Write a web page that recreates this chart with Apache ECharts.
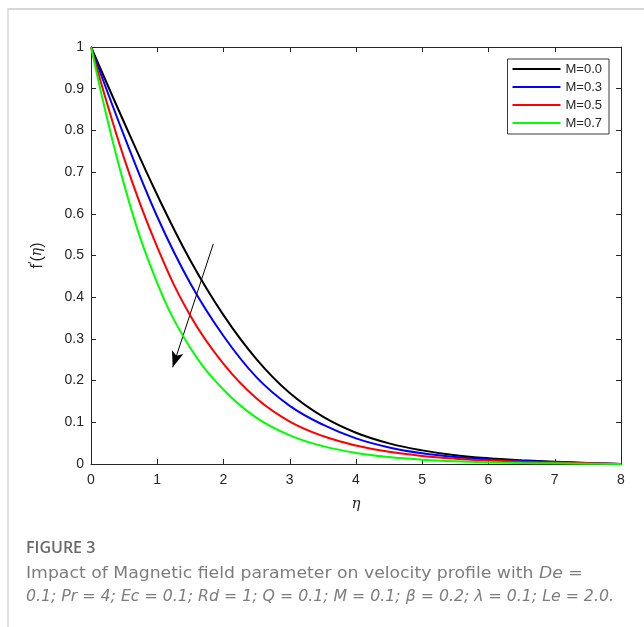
<!DOCTYPE html>
<html>
<head>
<meta charset="utf-8">
<script src="https://cdn.jsdelivr.net/npm/echarts@6/dist/echarts.min.js"></script>
<style>
  html, body { margin: 0; padding: 0; background: #ffffff; }
  #chart { width: 644px; height: 627px; }
</style>
</head>
<body>
<div id="chart"></div>
<script>
// Similarity variable eta (x axis)
const eta = [0, 0.5, 1, 1.5, 2, 2.5, 3, 3.5, 4, 4.5, 5, 5.5, 6, 6.5, 7, 7.5, 8];

// Velocity profiles f'(eta) for each magnetic parameter M
const fM00 = [1, 0.819, 0.645, 0.488, 0.357, 0.251, 0.170, 0.1135, 0.075, 0.0495, 0.0327, 0.021, 0.0137, 0.009, 0.0055, 0.0025, 0.0];
const fM03 = [1, 0.787, 0.593, 0.433, 0.307, 0.2077, 0.1395, 0.0942, 0.0614, 0.0397, 0.0257, 0.0167, 0.0109, 0.007, 0.0045, 0.002, 0.0];
const fM05 = [1, 0.733, 0.520, 0.3555, 0.240, 0.157, 0.1018, 0.067, 0.0443, 0.0292, 0.0193, 0.0128, 0.0084, 0.0055, 0.0036, 0.002, 0.0];
const fM07 = [1, 0.670, 0.434, 0.278, 0.178, 0.1106, 0.0688, 0.0428, 0.0266, 0.0165, 0.0103, 0.0064, 0.004, 0.0025, 0.0015, 0.0008, 0.0];

const seriesNames = ['M=0.0', 'M=0.3', 'M=0.5', 'M=0.7'];
const seriesValues = [fM00, fM03, fM05, fM07];
const seriesColors = ['#000000', '#0000ff', '#ff0000', '#00ff00'];

// Annotation arrow showing increasing M: start and end points in (eta, f') units
const arrowStart = [1.846, 0.528];
const arrowEnd = [1.233, 0.232];

const axisColor = '#262626';
const tickFont = { fontFamily: 'Liberation Sans, Arial, sans-serif', fontSize: 14, color: axisColor };

const chart = echarts.init(document.getElementById('chart'), null, { renderer: 'canvas' });

const series = seriesNames.map((name, i) => ({
  name: name,
  type: 'line',
  xAxisIndex: 0,
  yAxisIndex: 0,
  data: eta.map((x, k) => [x, seriesValues[i][k]]),
  smooth: 0.4,
  symbol: 'none',
  showSymbol: false,
  lineStyle: { color: seriesColors[i], width: 2 },
  itemStyle: { color: seriesColors[i] },
  z: 3 + i,
  animation: false
}));

series[0].markLine = {
  silent: true,
  animation: false,
  symbol: ['none', 'arrow'],
  symbolSize: [9, 16],
  label: { show: false },
  lineStyle: { color: '#000000', width: 1, type: 'solid' },
  data: [[{ coord: arrowStart }, { coord: arrowEnd }]]
};

const commonTick = { show: true, inside: true, length: 5, lineStyle: { color: axisColor, width: 1 } };
const commonLine = { show: true, onZero: false, lineStyle: { color: axisColor, width: 1 } };
const captionFont = '"DejaVu Sans", "Noto Sans", sans-serif';

chart.setOption({
  animation: false,
  backgroundColor: '#ffffff',
  grid: { left: 91, right: 23, top: 47, bottom: 163, containLabel: false },
  legend: {
    data: seriesNames,
    orient: 'vertical',
    right: 35,
    top: 59,
    icon: 'rect',
    itemWidth: 48,
    itemHeight: 2,
    itemGap: 4,
    padding: [3, 7, 4, 5],
    backgroundColor: '#ffffff',
    borderColor: '#3a3a3a',
    borderWidth: 1,
    borderRadius: 0,
    textStyle: { fontFamily: 'Liberation Sans, Arial, sans-serif', fontSize: 13, color: axisColor, lineHeight: 14 }
  },
  xAxis: [
    {
      type: 'value', position: 'bottom', min: 0, max: 8, interval: 1,
      name: 'η', nameLocation: 'middle', nameGap: 33,
      nameTextStyle: { fontFamily: 'DejaVu Serif, Liberation Serif, serif', fontStyle: 'italic', fontSize: 15, color: axisColor },
      axisLine: commonLine, axisTick: commonTick,
      axisLabel: Object.assign({ margin: 9 }, tickFont),
      splitLine: { show: false }
    },
    {
      type: 'value', position: 'top', min: 0, max: 8, interval: 1,
      axisLine: commonLine, axisTick: commonTick,
      axisLabel: { show: false }, splitLine: { show: false }
    }
  ],
  yAxis: [
    {
      type: 'value', position: 'left', min: 0, max: 1, interval: 0.1,
      name: '{a|f}{p|′}{a|(}{e|η}{a|)}', nameLocation: 'middle', nameGap: 43, nameRotate: 90,
      nameTextStyle: {
        rich: {
          a: { fontFamily: 'Liberation Sans, Arial, sans-serif', fontSize: 16, color: axisColor },
          p: { fontFamily: 'Liberation Sans, Arial, sans-serif', fontSize: 13, color: axisColor, verticalAlign: 'top', padding: [0, 0, 8, 0] },
          e: { fontFamily: 'DejaVu Serif, Liberation Serif, serif', fontStyle: 'italic', fontSize: 14, color: axisColor }
        }
      },
      axisLine: commonLine, axisTick: commonTick,
      axisLabel: Object.assign({ margin: 7, formatter: v => (Math.round(v * 10) / 10).toString() }, tickFont),
      splitLine: { show: false }
    },
    {
      type: 'value', position: 'right', min: 0, max: 1, interval: 0.1,
      axisLine: commonLine, axisTick: commonTick,
      axisLabel: { show: false }, splitLine: { show: false }
    }
  ],
  series: series,
  graphic: [
    {
      type: 'line', silent: true,
      shape: { x1: 8, y1: 9, x2: 644, y2: 9 },
      style: { stroke: '#d6d6d6', lineWidth: 2 }
    },
    {
      type: 'line', silent: true,
      shape: { x1: 8, y1: 8, x2: 8, y2: 627 },
      style: { stroke: '#d6d6d6', lineWidth: 1.5 }
    },
    {
      type: 'text', x: 26, y: 540, silent: true,
      style: {
        text: 'FIGURE 3',
        font: '600 16px "Open Sans", "Noto Sans", sans-serif',
        fill: '#6a6a6a'
      }
    },
    {
      type: 'text', x: 26, y: 567, scaleX: 1.15, silent: true,
      style: {
        text: '{n|Impact of Magnetic field parameter on velocity profile with }{i|De}{n| =}',
        rich: {
          n: { font: '15px ' + captionFont, fill: '#7d7d7d' },
          i: { font: 'italic 15px ' + captionFont, fill: '#7d7d7d' }
        }
      }
    },
    {
      type: 'text', x: 26, y: 590, scaleX: 1.05, silent: true,
      style: {
        text: '0.1; Pr = 4; Ec = 0.1; Rd = 1; Q = 0.1; M = 0.1; β = 0.2; λ = 0.1; Le = 2.0.',
        font: 'italic 15px ' + captionFont,
        fill: '#7d7d7d'
      }
    }
  ]
});
</script>
</body>
</html>
